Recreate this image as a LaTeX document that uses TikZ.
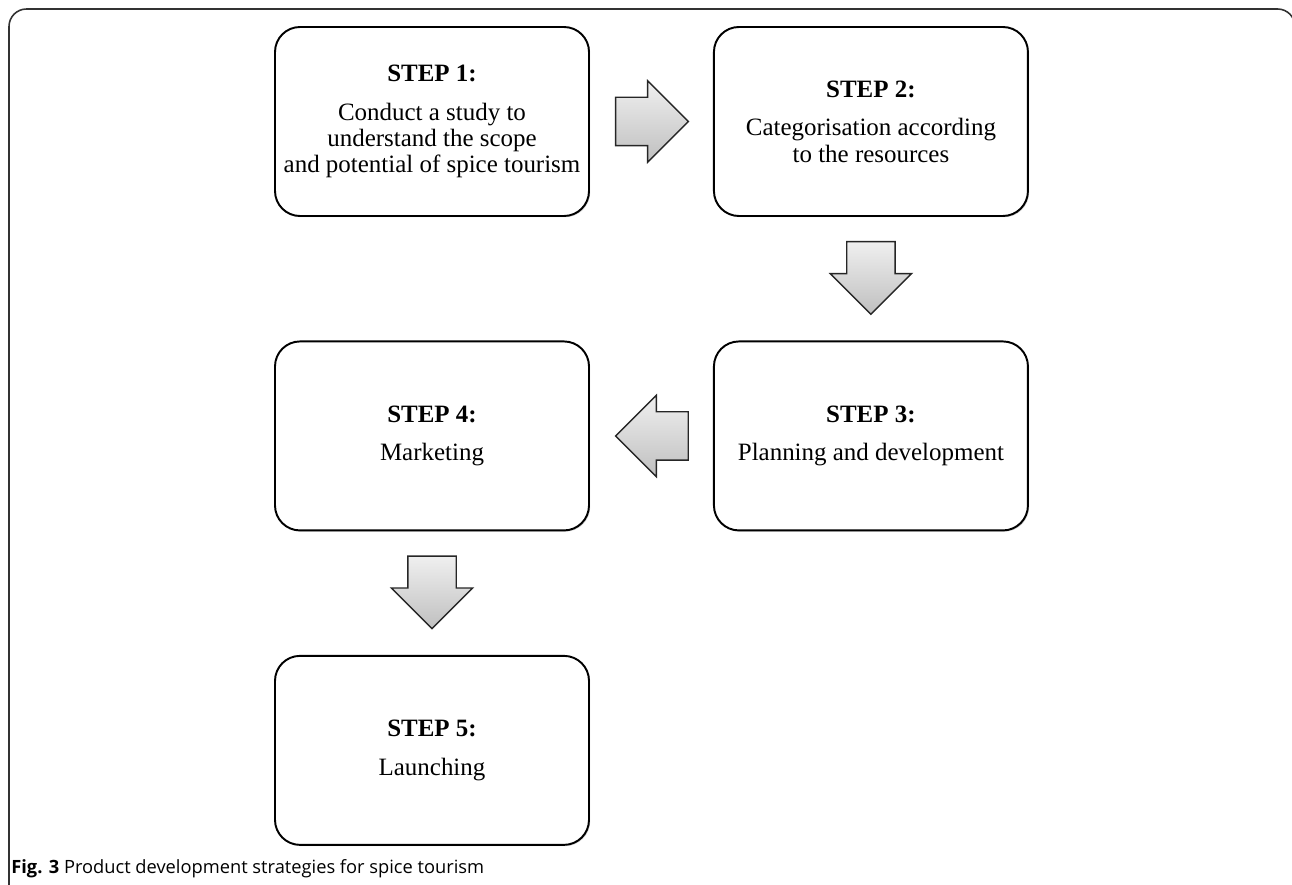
\documentclass[tikz,border=0pt]{standalone}
\usepackage{fontspec}
\setmainfont{Liberation Serif}
\setsansfont{Open Sans}
\usetikzlibrary{shapes, arrows.meta, positioning, calc, shadows}
\definecolor{frameGray}{RGB}{50,50,50}
\tikzset{
    basicbox/.style={
        rectangle, rounded corners=0.5cm, draw=black, fill=white,
        line width=1.1pt, align=center,
        drop shadow={shadow xshift=0.7pt, shadow yshift=-0.7pt, opacity=0.35}
    },
    blockarrow/.style={
        single arrow, draw=black!85, line width=0.8pt,
        top color=gray!12, bottom color=gray!50,
        inner sep=0.47cm,
        minimum height=1.45cm, minimum width=1.62cm,
        single arrow head extend=0.33cm
    },
}
\begin{document}
\begin{tikzpicture}[node distance=2.47cm and 2.46cm]
    \tikzstyle{stepbox}=[basicbox, minimum width=6.28cm, minimum height=3.78cm, font=\fontsize{14.2}{15}\selectfont]
    \useasboundingbox (0,0) rectangle (25.84,-17.7);

    % outer frame
    \draw[frameGray, line width=0.9pt, rounded corners=0.35cm] (0.18,-17.8) -- (0.18,-0.18) -- (25.9,-0.18) -- (25.9,-1);

    % steps
    \node[stepbox] (s1) at (8.64,-2.43) {\textbf{STEP 1:}\\[7pt]Conduct a study to\\understand the scope\\and potential of spice tourism};
    \node[stepbox, right=of s1] (s2) {\textbf{STEP 2:}\\[7pt]Categorisation according\\to the resources};
    \node[stepbox, below=of s2] (s3) {\textbf{STEP 3:}\\[7pt]Planning and development};
    \node[stepbox, below=of s1] (s4) {\textbf{STEP 4:}\\[7pt]Marketing};
    \node[stepbox, below=of s4] (s5) {\textbf{STEP 5:}\\[7pt]Launching};

    % arrows between steps
    \node[blockarrow, right=0.5cm of s1, anchor=tail] (a12) {};
    \node[blockarrow, shape border rotate=270, below=0.48cm of s2, anchor=tail] (a23) {};
    \node[blockarrow, shape border rotate=180, left=0.48cm of s3, anchor=tail] (a34) {};
    \node[blockarrow, shape border rotate=270, below=0.48cm of s4, anchor=tail] (a45) {};

    % caption
    \node[anchor=base west, inner sep=0pt, font=\sffamily\fontsize{10.4}{12}\selectfont] (caption) at (0.22,-17.47) {\textbf{Fig. 3} Product development strategies for spice tourism};
\end{tikzpicture}
\end{document}
